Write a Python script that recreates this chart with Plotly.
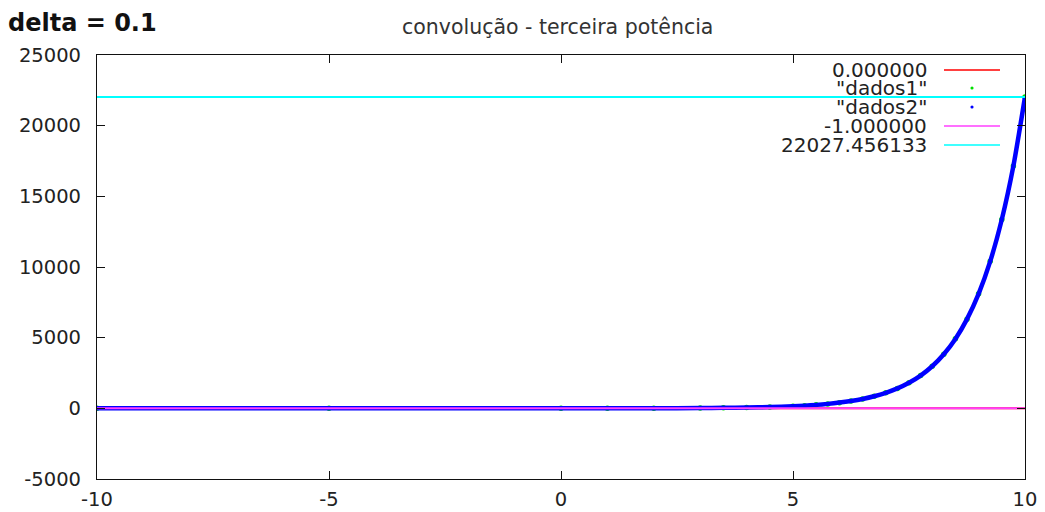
import plotly.graph_objects as go

# ---- data ----
x_dados = [-10, -5, 0, 1, 2, 3, 3.5, 4, 4.5, 5, 5.25, 5.5, 5.75, 6, 6.25, 6.5, 6.75,
           7, 7.25, 7.5, 7.75, 8, 8.25, 8.5, 8.75, 9, 9.25, 9.5, 9.75, 10]
dados1 = [0, 0, 1, 3, 7, 20, 33, 55, 90, 150, 190, 245, 315, 400, 520, 665, 855,
          1095, 1405, 1810, 2320, 2985, 3825, 4915, 6310, 8105, 10405, 13355, 17155, 22025]
dados2 = [0, 0, 1, 3, 7, 20, 33, 55, 90, 148, 190, 245, 315, 405, 520, 665, 855,
          1100, 1410, 1810, 2320, 2980, 3830, 4910, 6310, 8100, 10400, 13360, 17150, 22030]
x_range = [-10, 10]
const_zero = 0.0
const_minus_one = -1.0
const_top = 22027.456133
legend_labels = ["0.000000", '"dados1"', '"dados2"', "-1.000000", "22027.456133"]
x_ticks = [-10, -5, 0, 5, 10]
x_ticktext = ["-10", "-5", "0", "5", "10"]
y_ticks = [-5000, 0, 5000, 10000, 15000, 20000, 25000]
y_ticktext = ["-5000", "0", "5000", "10000", "15000", "20000", "25000"]

RED, GREEN, BLUE, MAGENTA, CYAN = "#ff0000", "#00e000", "#0000ff", "#ff40ff", "#00ffff"
FONT = "DejaVu Sans"

fig = go.Figure()
fig.add_trace(go.Scatter(x=x_range, y=[const_zero, const_zero], mode="lines",
                         line=dict(color=RED, width=2), showlegend=False))
fig.add_trace(go.Scatter(x=x_dados, y=dados1, mode="markers",
                         marker=dict(color=GREEN, size=5.5), showlegend=False))
fig.add_trace(go.Scatter(x=x_dados, y=dados2, mode="lines",
                         line=dict(color=BLUE, width=4.5, shape="spline", smoothing=0.6),
                         showlegend=False))
fig.add_trace(go.Scatter(x=x_range, y=[const_minus_one, const_minus_one], mode="lines",
                         line=dict(color=MAGENTA, width=2), showlegend=False))
fig.add_trace(go.Scatter(x=x_range, y=[const_top, const_top], mode="lines",
                         line=dict(color=CYAN, width=2), showlegend=False))

# ---- manual gnuplot-style legend (text right, sample left of it) ----
row_y = [0.9646, 0.9222, 0.8774, 0.8325, 0.7877]
samples = [("line", RED), ("dot", GREEN), ("dot", BLUE), ("line", MAGENTA), ("line", CYAN)]
shapes = []
annotations = []
for lab, yy, (kind, col) in zip(legend_labels, row_y, samples):
    annotations.append(dict(text=lab, xref="paper", yref="paper", x=0.8955, y=yy,
                            xanchor="right", yanchor="middle", showarrow=False,
                            height=18, borderpad=0, valign="middle",
                            font=dict(family=FONT, size=20, color="#222222")))
    if kind == "line":
        shapes.append(dict(type="line", xref="paper", yref="paper", x0=0.9127, x1=0.9731,
                           y0=yy, y1=yy, line=dict(color=col, width=1.5)))
    else:
        shapes.append(dict(type="circle", xref="paper", yref="paper",
                           x0=0.9429 - 0.0017, x1=0.9429 + 0.0017,
                           y0=yy - 0.0037, y1=yy + 0.0037,
                           fillcolor=col, line=dict(color=col, width=0)))

annotations.append(dict(text="convolução - terceira potência", xref="paper", yref="paper",
                        x=0.4957, y=1.066, xanchor="center", yanchor="middle", showarrow=False,
                        font=dict(family=FONT, size=20.5, color="#333333")))
annotations.append(dict(text="<b>delta = 0.1</b>", xref="paper", yref="paper",
                        x=-0.097, y=1.1108, xanchor="left", yanchor="top", showarrow=False,
                        borderpad=0, font=dict(family=FONT, size=24, color="#111111")))

axis_common = dict(showline=True, linecolor="#111111", linewidth=1.2, mirror="ticks",
                   ticks="inside", ticklen=8, tickwidth=1.2, tickcolor="#111111",
                   showgrid=False, zeroline=False, automargin=False,
                   tickfont=dict(family=FONT, size=19.5, color="#222222"))

# page has an 8px body margin, so the figure is 8px smaller and margins shifted
fig.update_layout(
    width=1037, height=504,
    margin=dict(l=89, r=20, t=47, b=33),
    paper_bgcolor="white", plot_bgcolor="white",
    xaxis=dict(range=x_range, tickmode="array", tickvals=x_ticks, ticktext=x_ticktext,
               ticklabelstandoff=2, **axis_common),
    yaxis=dict(range=[y_ticks[0], y_ticks[-1]], tickmode="array", tickvals=y_ticks,
               ticktext=y_ticktext, ticklabelstandoff=11, **axis_common),
    shapes=shapes, annotations=annotations,
)

fig.write_html("out.html")
